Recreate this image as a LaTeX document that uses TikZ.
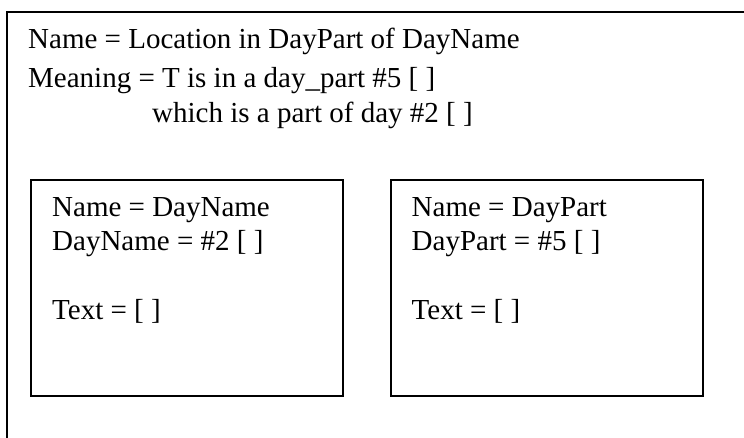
\documentclass[tikz,border=0pt]{standalone}
\usepackage{fontspec}
\setmainfont{Liberation Serif}
\begin{document}
\begin{tikzpicture}[x=1pt,y=-1pt,
  frame/.style={draw=black,line width=2pt},
  txt/.style={anchor=base west,inner sep=0pt,font=\fontsize{29}{34.6}\selectfont}]
\useasboundingbox (0,0) rectangle (744,437);
\begin{scope}
\clip (0,0) rectangle (744,437);
\draw[frame] (7,12) rectangle (760,460);
\end{scope}
\node[txt] (t1) at (28,48) {Name = Location in DayPart of DayName};
\node[txt] (t2) at (28,87.5) {Meaning = T is in a day\_part \#5 [ ]};
\node[txt] (t3) at (152,122) {which is a part of day \#2 [ ]};
\draw[frame] (31,180) rectangle (343,396);
\draw[frame] (391,180) rectangle (703,396);
\node[txt] (a1) at (52,216) {Name = DayName};
\node[txt] (a2) at (52,250.6) {DayName = \#2 [ ]};
\node[txt] (a3) at (52,319.8) {Text = [ ]};
\node[txt] (b1) at (411.5,216) {Name = DayPart};
\node[txt] (b2) at (411.5,250.6) {DayPart = \#5 [ ]};
\node[txt] (b3) at (411.5,319.8) {Text = [ ]};
\end{tikzpicture}
\end{document}
